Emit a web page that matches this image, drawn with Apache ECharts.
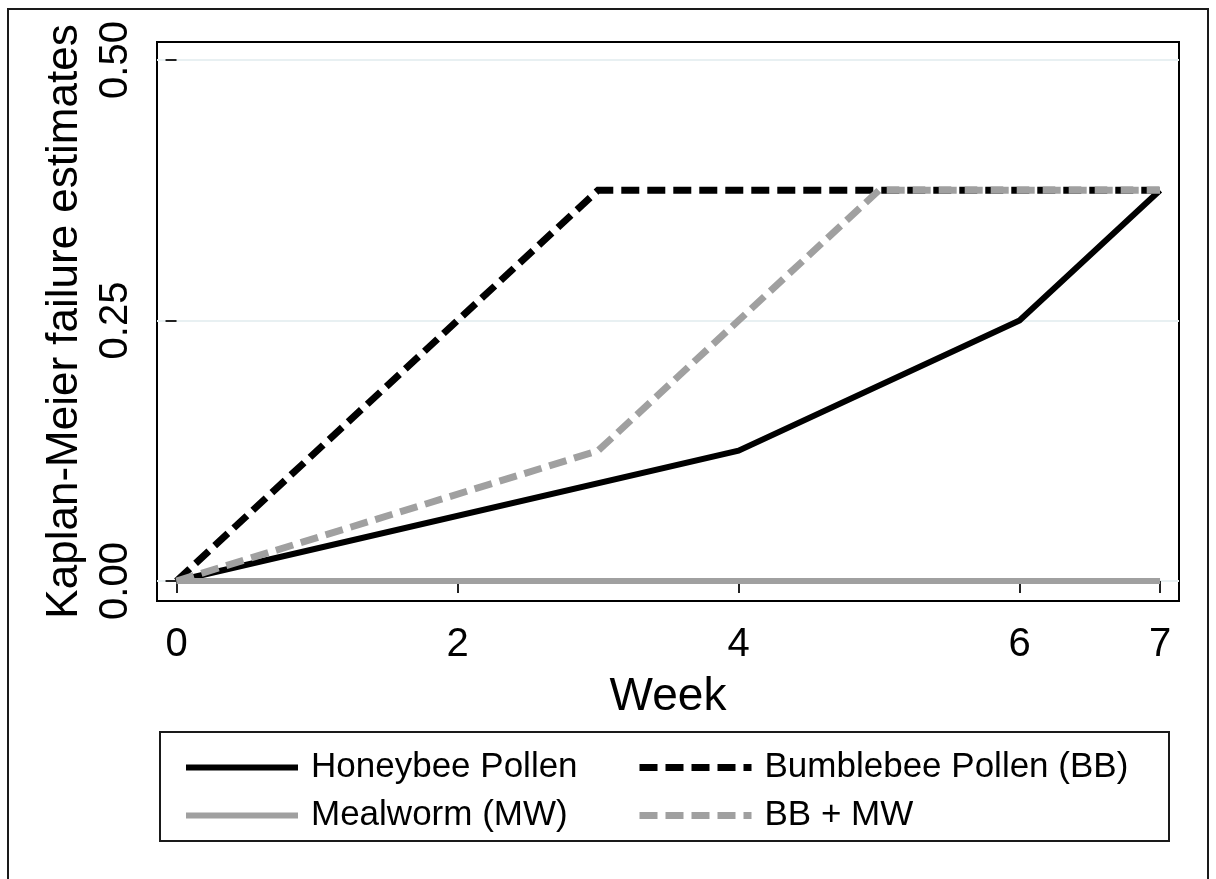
<!DOCTYPE html>
<html>
<head>
<meta charset="utf-8">
<script src="https://cdn.jsdelivr.net/npm/echarts@6/dist/echarts.min.js"></script>
<style>
html,body{margin:0;padding:0;background:#fff;}
#chart{width:1216px;height:879px;}
</style>
</head>
<body>
<div id="chart"></div>
<script>
// ---- data ----
const seriesNames = ['Honeybee Pollen', 'Bumblebee Pollen (BB)', 'Mealworm (MW)', 'BB + MW'];
const honeybeeWeeks = [0, 4, 6, 7];
const honeybeeValues = [0, 0.125, 0.25, 0.375];
const bumblebeeWeeks = [0, 3, 7];
const bumblebeeValues = [0, 0.375, 0.375];
const mealwormWeeks = [0, 7];
const mealwormValues = [0, 0];
const bbmwWeeks = [0, 3, 4, 5, 7];
const bbmwValues = [0, 0.125, 0.25, 0.375, 0.375];
const xTickValues = [0, 2, 4, 6, 7];
const yTickValues = [0, 0.25, 0.5];
const xAxisTitle = 'Week';
const yAxisTitle = 'Kaplan-Meier failure estimates';

const pairs = (xs, ys) => xs.map((x, i) => [x, ys[i]]);
const FONT = '"Liberation Sans", Arial, sans-serif';
const BLACK = '#000000';
const GRAY = '#a0a0a0';

const chart = echarts.init(document.getElementById('chart'), null, {renderer: 'canvas'});

function line(name, data, color, dashed, width) {
  return {
    name: name,
    type: 'line',
    data: data,
    symbol: 'none',
    showSymbol: false,
    animation: false,
    silent: true,
    lineStyle: {
      color: color,
      width: width,
      type: dashed ? [18, 8] : 'solid',
      cap: 'butt',
      join: 'miter'
    },
    itemStyle: {color: color}
  };
}

const legendCommon = {
  orient: 'vertical',
  itemWidth: 112,
  itemHeight: 14,
  itemGap: 13,
  selectedMode: false,
  textStyle: {fontFamily: FONT, fontSize: 35, color: '#000', padding: [0, 0, 0, 8]},
  lineStyle: {width: 'inherit'},
  itemStyle: {opacity: 0, borderWidth: 0},
  padding: 0
};

chart.setOption({
  backgroundColor: '#ffffff',
  animation: false,
  textStyle: {fontFamily: FONT},
  graphic: [
    {type: 'rect', shape: {x: 8, y: 9, width: 1200, height: 900},
     style: {fill: 'none', stroke: '#1a1a1a', lineWidth: 2}, silent: true, z: 0},
    {type: 'rect', shape: {x: 160, y: 732, width: 1009, height: 109},
     style: {fill: 'none', stroke: '#1a1a1a', lineWidth: 2}, silent: true, z: 0}
  ],
  legend: [
    Object.assign({}, legendCommon, {left: 183, top: 750, data: [seriesNames[0], seriesNames[2]]}),
    Object.assign({}, legendCommon, {left: 636, top: 750, data: [seriesNames[1], seriesNames[3]]})
  ],
  grid: {
    left: 157, top: 42, right: 37, bottom: 278,
    show: true, borderColor: '#000', borderWidth: 2, backgroundColor: '#fff',
    containLabel: false
  },
  xAxis: {
    type: 'value',
    min: -0.139, max: 7.135,
    name: xAxisTitle,
    nameLocation: 'middle',
    nameGap: 73,
    nameTextStyle: {fontFamily: FONT, fontSize: 46, color: '#000'},
    axisLine: {show: false},
    axisTick: {show: true, length: 12, customValues: xTickValues, lineStyle: {color: '#222', width: 2}},
    axisLabel: {show: true, customValues: xTickValues, margin: 24, fontSize: 40, color: '#000', fontFamily: FONT,
                formatter: v => String(v)},
    splitLine: {show: false}
  },
  yAxis: {
    type: 'value',
    min: -0.0192, max: 0.5173,
    name: yAxisTitle,
    nameLocation: 'middle',
    nameGap: 70,
    nameTextStyle: {fontFamily: FONT, fontSize: 44, color: '#000'},
    axisLine: {show: false},
    axisTick: {show: true, length: 11, customValues: yTickValues, lineStyle: {color: '#222', width: 2}},
    axisLabel: {show: true, customValues: yTickValues, rotate: 90, margin: 21, fontSize: 40, color: '#000', fontFamily: FONT,
                formatter: v => v.toFixed(2)},
    splitLine: {show: true, lineStyle: {color: '#e8f0f2', width: 2}}
  },
  series: [
    line(seriesNames[0], pairs(honeybeeWeeks, honeybeeValues), BLACK, false, 6),
    line(seriesNames[1], pairs(bumblebeeWeeks, bumblebeeValues), BLACK, true, 7),
    line(seriesNames[2], pairs(mealwormWeeks, mealwormValues), GRAY, false, 6),
    line(seriesNames[3], pairs(bbmwWeeks, bbmwValues), GRAY, true, 7)
  ]
});
</script>
</body>
</html>
